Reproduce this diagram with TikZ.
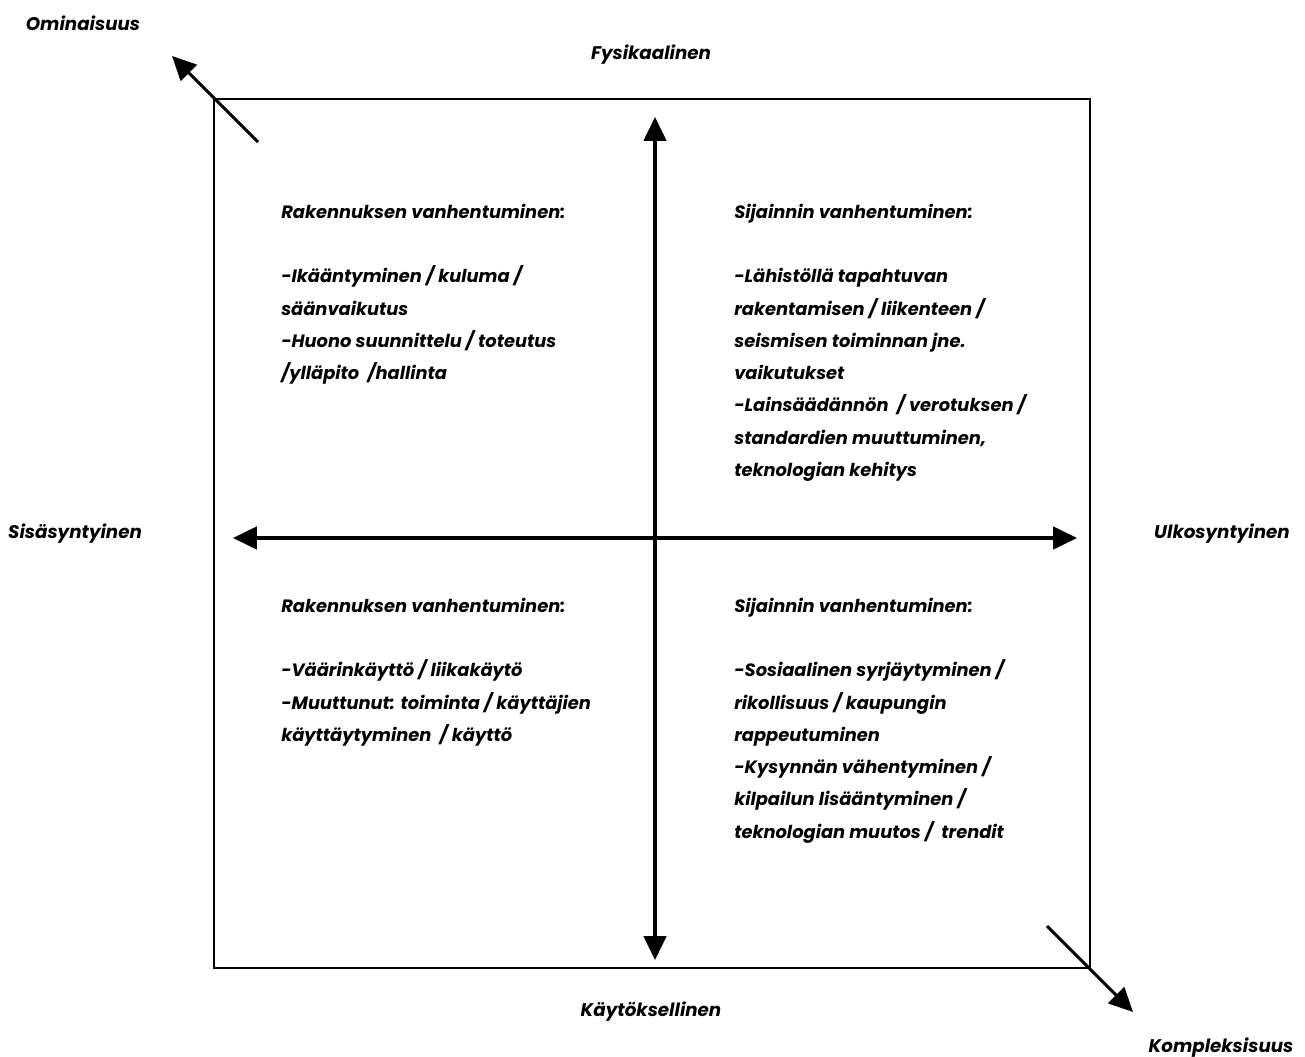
\documentclass[tikz,border=0pt]{standalone}
\usepackage{fontspec}
\usepackage{tikz}
\usetikzlibrary{arrows.meta, positioning}
\newfontfamily\quadfont{Poppins}
\definecolor{myblack}{RGB}{0,0,0}

\tikzset{
    axisline/.style={line width=2.2pt, myblack, {Triangle[length=17pt,width=16pt]}-{Triangle[length=17pt,width=16pt]}},
    cornerline/.style={line width=2.2pt, myblack, -{Triangle[length=17pt,width=16pt]}},
    axislabel/.style={font=\quadfont\bfseries\itshape\fontsize{13}{15}\selectfont},
    quadtext/.style={anchor=north west, align=left, inner sep=0pt,
        font=\quadfont\bfseries\itshape\fontsize{12.7}{22.9}\selectfont}
}

\begin{document}
\begin{tikzpicture}[x=0.025cm, y=-0.025cm]
    \useasboundingbox (0,0) rectangle (1305,1057);

    % Draw the frame
    \draw[line width=2pt] (214,99) rectangle (1090,968);

    % Axis end points
    \coordinate (up) at (655,117);
    \coordinate (down) at (655,960);
    \coordinate (left) at (233,538);
    \coordinate (right) at (1077,538);
    \coordinate (tlstart) at (258,142);
    \coordinate (tlend) at (172,56);
    \coordinate (brstart) at (1047,926);
    \coordinate (brend) at (1133,1012);

    % Axes
    \draw[axisline] (up) -- (down);
    \draw[axisline] (left) -- (right);
    \draw[cornerline] (tlstart) -- (tlend);
    \draw[cornerline] (brstart) -- (brend);

    % Axis labels
    \node[axislabel] (ominaisuus) at (83,23) {Ominaisuus};
    \node[axislabel] (fysikaalinen) at (651,55) {Fysikaalinen};
    \node[axislabel] (sisa) at (75,534) {Sisäsyntyinen};
    \node[axislabel] (ulko) at (1222,534) {Ulkosyntyinen};
    \node[axislabel] (kaytos) at (651,1012) {Käytöksellinen};
    \node[axislabel] (kompleksisuus) at (1221,1048) {Kompleksisuus};

    % Quadrant texts
    \node[quadtext] (tl) at (281,204) {Rakennuksen vanhentuminen:\\[22.9pt]
        -Ikääntyminen / kuluma /\\säänvaikutus\\-Huono suunnittelu / toteutus\\/ylläpito \ /hallinta};
    \node[quadtext] (tr) at (734,204) {Sijainnin vanhentuminen:\\[22.9pt]
        -Lähistöllä tapahtuvan\\rakentamisen / liikenteen /\\seismisen toiminnan jne.\\vaikutukset\\
        -Lainsäädännön \ / verotuksen /\\standardien muuttuminen,\\teknologian kehitys};
    \node[quadtext] (bl) at (281,598) {Rakennuksen vanhentuminen:\\[22.9pt]
        -Väärinkäyttö / liikakäytö\\-Muuttunut: toiminta / käyttäjien\\käyttäytyminen \ / käyttö};
    \node[quadtext] (br) at (734,598) {Sijainnin vanhentuminen:\\[22.9pt]
        -Sosiaalinen syrjäytyminen /\\rikollisuus / kaupungin\\rappeutuminen\\
        -Kysynnän vähentyminen /\\kilpailun lisääntyminen /\\teknologian muutos / \ trendit};
\end{tikzpicture}
\end{document}
